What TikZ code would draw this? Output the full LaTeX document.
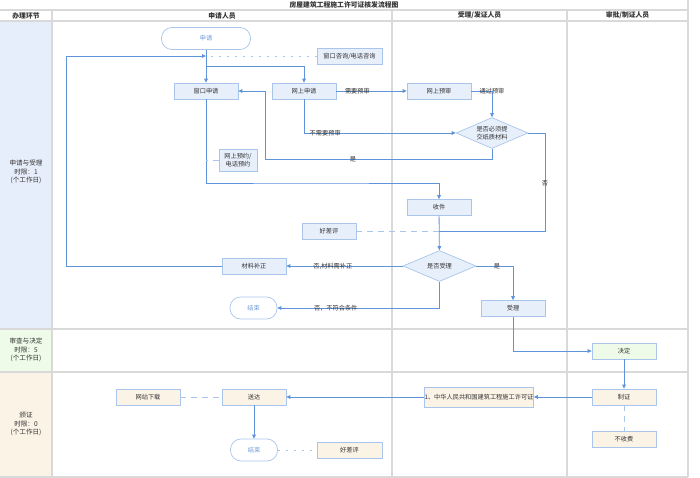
\documentclass[tikz,border=0pt]{standalone}
\usepackage{fontspec}
\setmainfont{Noto Sans CJK SC}
\usetikzlibrary{arrows.meta,shapes.geometric}
\definecolor{laneA}{HTML}{E7EEFB}
\definecolor{laneB}{HTML}{EDFBE8}
\definecolor{laneC}{HTML}{FCF3E7}
\definecolor{gridc}{HTML}{D9D9D9}
\definecolor{bfill}{HTML}{E7EFFB}
\definecolor{bdraw}{HTML}{A9C5EC}
\definecolor{gfill}{HTML}{EDFBE8}
\definecolor{ofill}{HTML}{FCF3E7}
\definecolor{conc}{HTML}{5F93DA}
\definecolor{txt}{HTML}{333333}
\definecolor{termtxt}{HTML}{6F9BD6}
\begin{document}
\begin{tikzpicture}[x=1pt,y=-1pt,
  every node/.style={font=\fontsize{6.2}{7.6}\selectfont, text=txt},
  box/.style={draw=bdraw, fill=bfill, line width=0.7pt, minimum width=64pt, minimum height=16pt, inner sep=1pt, align=center},
  term/.style={draw=bdraw, fill=white, line width=0.7pt, rounded corners=10.5pt, minimum width=47pt, minimum height=22pt, inner sep=1pt, text=termtxt},
  dec/.style={diamond, draw=bdraw, fill=bfill, line width=0.7pt, minimum width=72pt, minimum height=31pt, inner sep=0pt, aspect=2.3, align=center},
  conn/.style={draw=conc, line width=0.8pt, -{Triangle[length=4pt,width=3.6pt]}},
  plain/.style={draw=conc, line width=0.8pt},
  dashl/.style={draw=bdraw, line width=0.8pt, dash pattern=on 6pt off 5pt},
  dotl/.style={draw=bdraw, line width=0.8pt, dash pattern=on 2pt off 6pt},
  grid/.style={draw=gridc, line width=1.3pt},
  lbl/.style={inner sep=0.5pt},
  lane/.style={font=\fontsize{6.6}{8.2}\selectfont, align=center},
  head/.style={font=\fontsize{6.8}{8}\selectfont\bfseries}
]
\useasboundingbox (0,0) rectangle (700,478);
\fill[white] (0,0) rectangle (700,478);
% lane backgrounds
\fill[laneA] (0,21) rectangle (52,329);
\fill[laneB] (0,329) rectangle (52,372);
\fill[laneC] (0,372) rectangle (52,477);
% grid
\draw[grid] (0,10) -- (688,10);
\draw[grid] (0,21) -- (688,21);
\draw[grid] (0,329) -- (688,329);
\draw[grid] (0,372) -- (688,372);
\draw[grid] (0,477) -- (688,477);
\draw[grid] (52,10) -- (52,477);
\draw[grid] (392,10) -- (392,477);
\draw[grid] (567,10) -- (567,477);
\draw[grid] (688,0) -- (688,477);
% titles
\node[head] (title) at (344,5) {房屋建筑工程施工许可证核发流程图};
\node[head] (h0) at (26,15.5) {办理环节};
\node[head] (h1) at (222,15.5) {申请人员};
\node[head] (h2) at (479.5,15.5) {受理/发证人员};
\node[head] (h3) at (627.5,15.5) {审批/制证人员};
\node[lane] (l1) at (26,172) {申请与受理\\时限：1\\(个工作日)};
\node[lane] (l2) at (26,350) {审查与决定\\时限：5\\(个工作日)};
\node[lane] (l3) at (26,424) {颁证\\时限：0\\(个工作日)};
% nodes
\node[term, minimum width=89pt] (start) at (206,38.5) {申请};
\node[box, minimum width=65pt] (zx) at (349.5,56) {窗口咨询/电话咨询};
\node[box] (wk) at (206,91) {窗口申请};
\node[box] (ws) at (304,91) {网上申请};
\node[box] (wy) at (439,91) {网上预审};
\node[dec] (d1) at (492,133) {是否必须提\\交纸质材料};
\node[box, minimum width=38pt, minimum height=22pt] (yy) at (238,160) {网上预约/\\电话预约};
\node[box] (sj) at (439,207.5) {收件};
\node[box, minimum width=54pt] (hp1) at (329,231) {好差评};
\node[dec, minimum width=73pt] (d2) at (439.5,266) {是否受理};
\node[box] (bz) at (254,266) {材料补正};
\node[term] (end1) at (253.5,308) {结束};
\node[box] (sl) at (513,308.5) {受理};
\node[box, fill=gfill] (jd) at (624,351) {决定};
\node[box, fill=ofill] (zz) at (624,397) {制证};
\node[box, fill=ofill] (bs) at (624,439.5) {不收费};
\node[box, fill=ofill, minimum width=106pt, minimum height=20pt, inner xsep=0pt] (xk) at (479,397) {1、中华人民共和国建筑工程施工许可证};
\node[box, fill=ofill] (sd) at (254,397) {送达};
\node[box, fill=ofill] (wz) at (148,397) {网站下载};
\node[term] (end2) at (254,450) {结束};
\node[box, fill=ofill, minimum width=65pt] (hp2) at (349.5,450) {好差评};
% coordinates
\coordinate (j1) at (206,56);
\coordinate (b1) at (206,66);
\coordinate (c1) at (265,159);
\coordinate (c2) at (545,231);
\coordinate (j2) at (439,231);
\coordinate (c3) at (300,183);
\coordinate (j3) at (206,160);
\coordinate (lp) at (66,266);
% connectors
\draw[conn] (start) -- (wk);
\draw[conn] (b1) -| (ws.north);
\draw[dotl] (zx.west) -- (j1);
\draw[conn] (bz.west) -- (lp) |- (j1);
\draw[conn] (ws) -- node[lbl, pos=0.3] (t1) {需要预审} (wy);
\draw[conn] (wy.east) -| node[lbl, pos=0.5] (t2) {通过预审} (d1.north);
\draw[conn] (ws.south) |- node[lbl, pos=0.57] (t3) {不需要预审} (d1.west);
\draw[conn] (d1.south) |- (c1) |- (wk.east);
\node[lbl] (t4) at (353,159) {是};
\draw[plain] (d1.east) -| (c2) -- (j2);
\node[lbl] (t5) at (545,183) {否};
\draw[conn] (wk.south) |- (c3) -| (sj.north);
\draw[dashl] (yy.west) -- (j3);
\draw[conn] (sj) -- (d2);
\draw[dashl] (hp1.east) -- (j2);
\draw[conn] (d2.west) -- node[lbl, pos=0.6] (t6) {否,材料需补正} (bz.east);
\draw[conn] (d2.south) |- node[lbl, pos=0.82] (t7) {否，不符合条件} (end1.east);
\draw[conn] (d2.east) -| node[lbl, pos=0.28] (t8) {是} (sl.north);
\draw[conn] (sl.south) |- (jd.west);
\draw[conn] (jd) -- (zz);
\draw[dashl] (zz) -- (bs);
\draw[conn] (zz.west) -- (xk.east);
\draw[conn] (xk.west) -- (sd.east);
\draw[dashl] (wz.east) -- (sd.west);
\draw[conn] (sd) -- (end2);
\draw[dotl] (end2.east) -- (hp2.west);
\end{tikzpicture}
\end{document}
